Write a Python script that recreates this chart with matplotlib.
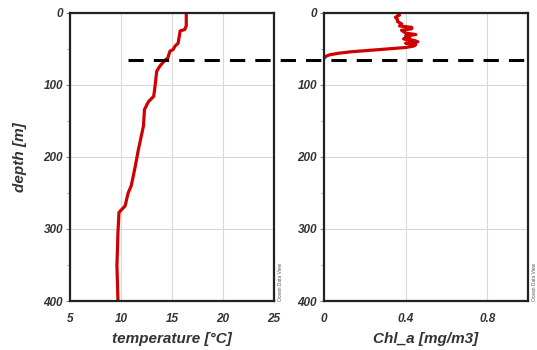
import matplotlib
matplotlib.use("Agg")
import matplotlib.pyplot as plt
from matplotlib.lines import Line2D
from matplotlib.ticker import MultipleLocator
from matplotlib.transforms import blended_transform_factory

plt.rcParams["font.family"] = ["Liberation Sans", "DejaVu Sans"]

# Temperature profile
temp_depth = [0, 18, 23, 25, 42, 46, 51, 53, 62, 69, 74, 81, 106, 116, 123,
              134, 157, 190, 213, 240, 250, 268, 277, 305, 351, 400]
temp_vals = [16.4, 16.4, 16.25, 15.8, 15.6, 15.3, 15.1, 14.8, 14.6, 14.1, 13.8,
             13.5, 13.3, 13.2, 12.7, 12.3, 12.2, 11.7, 11.4, 11.0, 10.7, 10.4,
             9.8, 9.7, 9.6, 9.7]

# Chlorophyll-a profile
chl_depth = [0, 3, 6, 9, 12, 15, 18, 20, 22, 24, 26, 28, 30, 32, 34, 36, 38,
             40, 42, 44, 46, 48, 50, 52, 54, 56, 58, 60, 63]
chl_vals = [0.36, 0.37, 0.35, 0.36, 0.36, 0.38, 0.37, 0.43, 0.43, 0.38, 0.39,
            0.40, 0.45, 0.40, 0.42, 0.39, 0.44, 0.46, 0.40, 0.45, 0.44, 0.40,
            0.31, 0.22, 0.13, 0.07, 0.03, 0.01, 0.0]

mld = 65  # mixed layer depth

text_col = "#333333"
red = "#d10000"
tick_font = dict(fontsize=8.5, fontweight="bold", fontstyle="italic", color=text_col)
label_font = dict(fontsize=11, fontweight="bold", fontstyle="italic", color=text_col)

fig = plt.figure(figsize=(5.37, 3.5), dpi=100)
ax1 = fig.add_axes([0.1304, 0.14, 0.3798, 0.823])
ax2 = fig.add_axes([0.6034, 0.14, 0.3798, 0.823])

for ax in (ax1, ax2):
    ax.set_ylim(400, 0)
    ax.yaxis.set_major_locator(MultipleLocator(100))
    ax.yaxis.set_minor_locator(MultipleLocator(50))
    ax.grid(True, color="#d9d9d9", linewidth=0.8)
    ax.set_axisbelow(True)
    for s in ax.spines.values():
        s.set_linewidth(1.6)
        s.set_color("#222222")
    ax.tick_params(axis="y", which="major", length=3, width=0.8, color="#888888", pad=2)
    ax.tick_params(axis="y", which="minor", length=2, width=0.8, color="#aaaaaa")
    ax.tick_params(axis="x", length=0, pad=9)
    ax.text(1.02, 0.0, "Ocean Data View", transform=ax.transAxes, rotation=90,
            fontsize=3.5, color="#555555", ha="left", va="bottom")

ax1.plot(temp_vals, temp_depth, color=red, linewidth=2.3)
ax1.set_xlim(5, 25)
ax1.set_xticks([5, 10, 15, 20, 25])
ax1.set_xlabel("temperature [°C]", labelpad=5, **label_font)
ax1.set_ylabel("depth [m]", labelpad=12, **label_font)

ax2.plot(chl_vals, chl_depth, color=red, linewidth=2.3)
ax2.set_xlim(0, 1.0)
ax2.set_xticks([0, 0.4, 0.8])
ax2.set_xticklabels(["0", "0.4", "0.8"])
ax2.set_xlabel("Chl_a [mg/m3]", labelpad=5, **label_font)

for ax in (ax1, ax2):
    for lab in ax.get_yticklabels() + ax.get_xticklabels():
        lab.set(**tick_font)

# dashed mixed layer line spanning both panels
trans = blended_transform_factory(fig.transFigure, ax1.transData)
fig.add_artist(Line2D([0.238, 0.985], [mld, mld], transform=trans, color="black",
                      linewidth=2.2, linestyle=(0, (5, 3.3)), zorder=5))

fig.savefig("out.png", dpi=100)
